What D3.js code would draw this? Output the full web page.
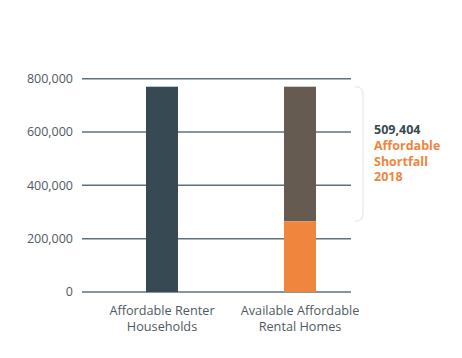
<!DOCTYPE html>
<html><head><meta charset="utf-8">
<script src="https://cdn.jsdelivr.net/npm/d3@7"></script>
<style>body{margin:0;background:#fff}svg{display:block}text{font-family:"Open Sans",sans-serif}</style>
</head><body><svg id="c" width="462" height="358"></svg>
<script>
const categories = ["Affordable Renter Households", "Available Affordable Rental Homes"];
const categoryLines = [["Affordable Renter", "Households"], ["Available Affordable", "Rental Homes"]];
const totals = [770000, 770000];
const available = [null, 265000];
const tickValues = [0, 200000, 400000, 600000, 800000];
const shortfallLabel = ["509,404", "Affordable", "Shortfall", "2018"];

const svg = d3.select("#c");
const x = d3.scalePoint().domain(categories).range([162, 300]);
const y = d3.scaleLinear().domain([0, 800000]).range([292, 78.7]);
const x0 = 82, x1 = 351;

// grid
svg.append("g").selectAll("line").data(tickValues).join("line")
  .attr("x1", x0).attr("x2", x1).attr("y1", d => y(d)).attr("y2", d => y(d))
  .attr("stroke", "#5e717b").attr("stroke-width", 1.5);
svg.append("g").selectAll("text").data(tickValues).join("text")
  .attr("x", 73).attr("y", d => y(d)).attr("dy", "0.35em").attr("text-anchor", "end")
  .attr("font-size", 12.5).attr("fill", "#4f5a60").text(d => d3.format(",")(d));

// bars
const bw = 32;
svg.append("rect").attr("x", x(categories[0]) - bw/2).attr("width", bw)
  .attr("y", y(totals[0])).attr("height", y(0) - y(totals[0])).attr("fill", "#374a53");
svg.append("rect").attr("x", x(categories[1]) - bw/2).attr("width", bw)
  .attr("y", y(totals[1])).attr("height", y(available[1]) - y(totals[1])).attr("fill", "#665b51");
svg.append("rect").attr("x", x(categories[1]) - bw/2).attr("width", bw)
  .attr("y", y(available[1])).attr("height", y(0) - y(available[1])).attr("fill", "#f0853d");

// category labels
categories.forEach((c, i) => {
  const cx = x(c);
  const t = svg.append("text").attr("text-anchor", "middle").attr("font-size", 12.7).attr("fill", "#4f5a60");
  categoryLines[i].forEach((l, j) => t.append("tspan").attr("x", cx).attr("y", 315 + j*15.5).text(l));
});

// bracket
const bt = y(totals[1]), bb = y(available[1]);
const bx = 355, r = 8;
svg.append("path")
  .attr("d", `M${bx},${bt} Q${bx+r},${bt} ${bx+r},${bt+r} L${bx+r},${bb-r} Q${bx+r},${bb} ${bx},${bb}`)
  .attr("fill", "none").attr("stroke", "#e6e8ea").attr("stroke-width", 1.2);

// annotation
shortfallLabel.forEach((l, i) => {
  svg.append("text").attr("x", 374).attr("y", 134 + i*15.8)
    .attr("font-size", 12.5).attr("font-weight", "bold")
    .attr("fill", i === 0 ? "#374a53" : "#f0853d").text(l);
});
</script></body></html>
